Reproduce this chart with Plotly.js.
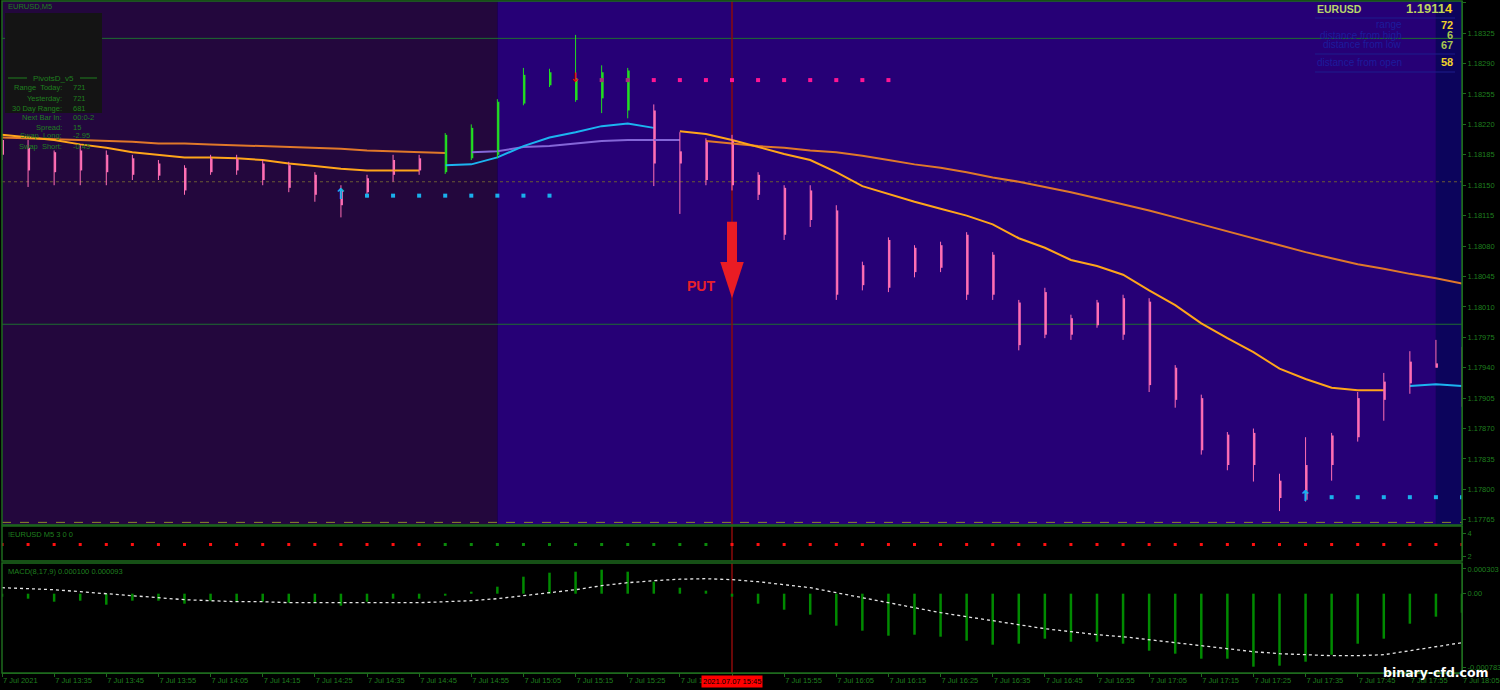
<!DOCTYPE html>
<html><head><meta charset="utf-8">
<script src="https://cdn.plot.ly/plotly-3.0.1.min.js"></script>
<style>html,body{margin:0;padding:0;background:#000;}#chart{width:1500px;height:690px;}</style>
</head><body><div id="chart"></div>
<script>
// ---------------- DATA ----------------
const DAY = '2021-07-07 ';
const barTimes = ['13:25','13:30','13:35','13:40','13:45','13:50','13:55','14:00','14:05','14:10','14:15','14:20','14:25','14:30','14:35','14:40','14:45','14:50','14:55','15:00','15:05','15:10','15:15','15:20','15:25','15:30','15:35','15:40','15:45','15:50','15:55','16:00','16:05','16:10','16:15','16:20','16:25','16:30','16:35','16:40','16:45','16:50','16:55','17:00','17:05','17:10','17:15','17:20','17:25','17:30','17:35','17:40','17:45','17:50','17:55','18:00','18:05'];

const openP  = [1.18202,1.18193,1.18188,1.18190,1.18185,1.18181,1.18175,1.18170,1.18181,1.18181,1.18175,1.18173,1.18162,1.18144,1.18158,1.18179,1.18181,
  1.18165,1.18181,1.18185,1.18244,1.18265,1.18248,1.18250,1.18236,
  1.18236,1.18189,1.18200,1.18202,1.18162,1.18147,1.18144,1.18121,1.18058,1.18087,1.18078,1.18081,1.18093,1.18070,1.18015,1.18027,1.17997,1.18015,1.18020,1.18016,1.17940,1.17905,1.17863,1.17865,1.17810,1.17828,1.17862,1.17905,1.17924,1.17947,1.17945,1.17941];
const highP  = [1.18204,1.18202,1.18190,1.18196,1.18190,1.18185,1.18179,1.18173,1.18185,1.18185,1.18179,1.18177,1.18165,1.18150,1.18162,1.18185,1.18185,
  1.18210,1.18220,1.18249,1.18285,1.18284,1.18323,1.18288,1.18285,
  1.18243,1.18211,1.18204,1.18208,1.18165,1.18150,1.18150,1.18127,1.18062,1.18090,1.18081,1.18085,1.18096,1.18073,1.18018,1.18032,1.18001,1.18018,1.18024,1.18020,1.17943,1.17909,1.17866,1.17870,1.17818,1.17860,1.17865,1.17912,1.17934,1.17959,1.17972,1.17964];
const lowP   = [1.18179,1.18148,1.18150,1.18150,1.18150,1.18156,1.18156,1.18139,1.18162,1.18162,1.18150,1.18142,1.18131,1.18113,1.18136,1.18154,1.18162,
  1.18163,1.18179,1.18181,1.18242,1.18263,1.18246,1.18233,1.18227,
  1.18149,1.18117,1.18150,1.18144,1.18133,1.18087,1.18102,1.18018,1.18029,1.18027,1.18044,1.18050,1.18018,1.18018,1.17960,1.17974,1.17972,1.17986,1.17972,1.17912,1.17894,1.17840,1.17822,1.17809,1.17775,1.17786,1.17810,1.17855,1.17879,1.17910,1.17940,1.17895];
const closeP = [1.18185,1.18167,1.18165,1.18167,1.18165,1.18162,1.18161,1.18144,1.18165,1.18167,1.18156,1.18147,1.18139,1.18127,1.18142,1.18162,1.18167,
  1.18208,1.18216,1.18246,1.18277,1.18280,1.18273,1.18280,1.18282,
  1.18175,1.18175,1.18156,1.18150,1.18139,1.18093,1.18110,1.18024,1.18035,1.18032,1.18050,1.18055,1.18024,1.18024,1.17966,1.17978,1.17978,1.17989,1.17978,1.17920,1.17903,1.17845,1.17828,1.17828,1.17790,1.17788,1.17828,1.17860,1.17903,1.17922,1.17940,1.17899];
const barTrend = ['p','p','p','p','p','p','p','p','p','p','p','p','p','p','p','p','p',
  'g','g','g','g','g','g','g','g',
  'p','p','p','p','p','p','p','p','p','p','p','p','p','p','p','p','p','p','p','p','p','p','p','p','p','p','p','p','p','p','p','p'];

const fastMaDown = [1.18208,1.18205,1.18202,1.18197,1.18193,1.18188,1.18185,1.18182,1.18182,1.18181,1.18179,1.18175,1.18172,1.18169,1.18167,1.18167,1.18167,
  null,null,null,null,null,null,null,null,null,
  1.18212,1.18209,1.18202,1.18194,1.18186,1.18179,1.18165,1.18149,1.18140,1.18131,1.18123,1.18115,1.18105,1.18089,1.18078,1.18064,1.18057,1.18047,1.18029,1.18012,1.17991,1.17974,1.17958,1.17939,1.17927,1.17917,1.17914,1.17914,
  null,null,null];
const fastMaUp = [null,null,null,null,null,null,null,null,null,null,null,null,null,null,null,null,null,
  1.18173,1.18174,1.18182,1.18195,1.18205,1.18211,1.18218,1.18221,1.18216,
  null,null,null,null,null,null,null,null,null,null,null,null,null,null,null,null,null,null,null,null,null,null,null,null,null,null,null,null,
  1.17919,1.17921,1.17919];
const slowMaDown = [1.18205,1.18204,1.18203,1.18202,1.18201,1.18200,1.18198,1.18198,1.18197,1.18196,1.18195,1.18194,1.18193,1.18192,1.18190,1.18189,1.18188,1.18187,
  null,null,null,null,null,null,null,null,null,
  1.18201,1.18198,1.18195,1.18193,1.18190,1.18188,1.18184,1.18179,1.18174,1.18170,1.18165,1.18159,1.18154,1.18148,1.18142,1.18135,1.18128,1.18121,1.18113,1.18105,1.18097,1.18089,1.18081,1.18073,1.18066,1.18059,1.18054,1.18048,1.18043,1.18037];
const slowMaUp = [null,null,null,null,null,null,null,null,null,null,null,null,null,null,null,null,null,null,
  1.18188,1.18189,1.18194,1.18195,1.18198,1.18201,1.18202,1.18202,1.18202,
  null,null,null,null,null,null,null,null,null,null,null,null,null,null,null,null,null,null,null,null,null,null,null,null,null,null,null,null];

const supportDotTimes = ['14:35','14:40','14:45','14:50','14:55','15:00','15:05','15:10'];
const supportDotPrice = [1.18138,1.18138,1.18138,1.18138,1.18138,1.18138,1.18138,1.18138];
const support2DotTimes = ['17:40','17:45','17:50','17:55','18:00','18:05'];
const support2DotPrice = [1.17791,1.17791,1.17791,1.17791,1.17791,1.17791];
const resistDimTimes = ['15:20','15:25'];
const resistDimPrice = [1.18271,1.18271];
const resistDotTimes = ['15:30','15:35','15:40','15:45','15:50','15:55','16:00','16:05','16:10','16:15'];
const resistDotPrice = [1.18271,1.18271,1.18271,1.18271,1.18271,1.18271,1.18271,1.18271,1.18271,1.18271];
const upArrowTimes = ['14:30','17:35'];
const upArrowPrice = [1.18138,1.17791];
const downArrowTimes = ['15:15'];
const downArrowPrice = [1.18273];

const putTime = '15:45';
const putShaft = [1.18108,1.18057];
const putTip = 1.18020;
const putLabelPrice = 1.18034;

// session shading boundaries
const sessionStart = '15:00';
const sessionEnd = '18:00';

const levelGreen = [1.18319,1.17990];
const levelDotted = 1.18154;
const levelDashed = 1.17762;

const trendDotLevel = [3,3,3,3,3,3,3,3,3,3,3,3,3,3,3,3,3,3,3,3,3,3,3,3,3,3,3,3,3,3,3,3,3,3,3,3,3,3,3,3,3,3,3,3,3,3,3,3,3,3,3,3,3,3,3,3,3];
const trendDotColor = ['r','r','r','r','r','r','r','r','r','r','r','r','r','r','r','r','r',
  'g','g','g','g','g','g','g','g','g','g','g',
  'r','r','r','r','r','r','r','r','r','r','r','r','r','r','r','r','r','r','r','r','r','r','r','r','r','r','r','r','r'];

const macdHist = [-0.0000296,-0.0000494,-0.0000790,-0.0000691,-0.0001086,-0.0000691,-0.0000691,-0.0000987,-0.0000691,-0.0000790,-0.0000790,-0.0000889,-0.0000889,-0.0001185,-0.0000790,-0.0000494,-0.0000494,
  -0.0000197,0.0000197,0.0000691,0.0001678,0.0002073,0.0002172,0.0002370,0.0002172,0.0001185,0.0000592,0.0000296,
  -0.0000296,-0.0000987,-0.0001580,-0.0002073,-0.0003159,-0.0003653,-0.0004147,-0.0004048,-0.0004245,-0.0004640,-0.0005035,-0.0004937,-0.0004443,
  -0.0004739,-0.0004739,-0.0004937,-0.0005628,-0.0005924,-0.0006417,-0.0006417,-0.0007207,-0.0007109,-0.0006714,-0.0006023,-0.0004937,-0.0004443,-0.0002962,-0.0002271,-0.0001876];
const macdSignal = [0.0000592,0.0000494,0.0000395,0.0000197,0,
  -0.0000197,-0.0000395,-0.0000592,-0.0000691,-0.0000790,-0.0000790,
  -0.0000889,-0.0000889,-0.0000889,-0.0000889,-0.0000889,-0.0000889,
  -0.0000790,-0.0000691,-0.0000494,-0.0000197,
  0.0000099,0.0000395,0.0000790,0.0001086,0.0001283,0.0001432,0.0001481,
  0.0001382,0.0001185,0.0000889,0.0000592,0.0000099,
  -0.0000395,-0.0000889,-0.0001382,-0.0001876,-0.0002271,-0.0002666,-0.0003061,-0.0003456,
  -0.0003752,-0.0004048,-0.0004245,-0.0004542,-0.0004838,-0.0005134,-0.0005430,-0.0005726,
  -0.0005924,-0.0006023,-0.0006121,-0.0006121,-0.0006023,-0.0005628,-0.0005233,-0.0004838];

const xTickTimes = ['13:25','13:35','13:45','13:55','14:05','14:15','14:25','14:35','14:45','14:55','15:05','15:15','15:25','15:35','15:45','15:55','16:05','16:15','16:25','16:35','16:45','16:55','17:05','17:15','17:25','17:35','17:45','17:55','18:05'];
const xTickText = ['7 Jul 2021','7 Jul 13:35','7 Jul 13:45','7 Jul 13:55','7 Jul 14:05','7 Jul 14:15','7 Jul 14:25','7 Jul 14:35','7 Jul 14:45','7 Jul 14:55','7 Jul 15:05','7 Jul 15:15','7 Jul 15:25','7 Jul 15:35','','7 Jul 15:55','7 Jul 16:05','7 Jul 16:15','7 Jul 16:25','7 Jul 16:35','7 Jul 16:45','7 Jul 16:55','7 Jul 17:05','7 Jul 17:15','7 Jul 17:25','7 Jul 17:35','7 Jul 17:45','7 Jul 17:55','7 Jul 18:05'];
const macdTickVals = [0.000244,0,-0.000724];
const macdTickText = ['0.000303','0.00','-0.000783'];

// ---------------- BUILD ----------------
const T = t => DAY + t;
const X = barTimes.map(T);
const MSPX = 300000 / 26.07; // ms per pixel on the time axis
const GREEN_TXT = '#1f7f1f';
const FONT = 'Liberation Sans, Arial, sans-serif';
const candleCol = {p:'#ff6eb4', g:'#22dd22'};

const traces = [];
function addMA(vals, color, width) {
  traces.push({type:'scatter', mode:'lines', x:X, y:vals, connectgaps:false, line:{color, width}, xaxis:'x', yaxis:'y', hoverinfo:'skip'});
}
addMA(slowMaDown, '#e0782a', 2);
addMA(slowMaUp, '#8466d8', 2);
addMA(fastMaDown, '#ffa51a', 2);
addMA(fastMaUp, '#1cb4f0', 2);

['p','g'].forEach(flag => {
  const wx = [], wy = [], bx = [], bb = [], bh = [];
  X.forEach((t, i) => {
    if (barTrend[i] !== flag) return;
    wx.push(t, t, null); wy.push(highP[i], lowP[i], null);
    bx.push(t); bb.push(Math.min(openP[i], closeP[i]));
    bh.push(Math.max(Math.abs(closeP[i] - openP[i]), 0.00001));
  });
  traces.push({type:'scatter', mode:'lines', x:wx, y:wy, line:{color:candleCol[flag], width:1}, xaxis:'x', yaxis:'y', hoverinfo:'skip'});
  traces.push({type:'bar', x:bx, y:bh, base:bb, width:2*MSPX, offset:0, marker:{color:candleCol[flag], line:{width:0}}, xaxis:'x', yaxis:'y', hoverinfo:'skip'});
});

function dots(times, prices, color, size) {
  traces.push({type:'scatter', mode:'markers', x:times.map(T), y:prices, marker:{symbol:'square', color, size}, xaxis:'x', yaxis:'y', hoverinfo:'skip'});
}
dots(supportDotTimes, supportDotPrice, '#1ab0ec', 4);
dots(support2DotTimes, support2DotPrice, '#1ab0ec', 4);
dots(resistDimTimes, resistDimPrice, '#a8307c', 4);
dots(resistDotTimes, resistDotPrice, '#ff1493', 4);

traces.push({type:'scatter', mode:'text', x:upArrowTimes.map(T), y:upArrowPrice, text:upArrowTimes.map(() => '<b>↑</b>'),
  textfont:{family:'DejaVu Sans', size:15, color:'#1ab0ec'}, xaxis:'x', yaxis:'y', hoverinfo:'skip'});
traces.push({type:'scatter', mode:'text', x:downArrowTimes.map(T), y:downArrowPrice, text:downArrowTimes.map(() => '<b>↓</b>'),
  textfont:{family:'DejaVu Sans', size:13, color:'#e01010'}, xaxis:'x', yaxis:'y', hoverinfo:'skip'});

// PUT arrow
traces.push({type:'scatter', mode:'lines', x:[T(putTime), T(putTime)], y:putShaft, line:{color:'#ea1c24', width:10}, xaxis:'x', yaxis:'y', hoverinfo:'skip'});
traces.push({type:'scatter', mode:'markers', x:[T(putTime)], y:[putTip], marker:{symbol:'arrow', angle:180, size:38, color:'#ea1c24', line:{width:0}}, xaxis:'x', yaxis:'y', hoverinfo:'skip'});

// panel 1 dots
['r','g'].forEach(c => {
  const tx = [], ty = [];
  X.forEach((t, i) => { if (trendDotColor[i] === c) { tx.push(t); ty.push(trendDotLevel[i]); } });
  traces.push({type:'scatter', mode:'markers', x:tx, y:ty, marker:{symbol:'square', size:3, color: c === 'r' ? '#ff1010' : '#0b8a0b'}, xaxis:'x', yaxis:'y2', hoverinfo:'skip'});
});

// MACD
traces.push({type:'bar', x:X, y:macdHist, width:2.5*MSPX, marker:{color:'#008a00', line:{width:0}}, xaxis:'x', yaxis:'y3', hoverinfo:'skip'});
traces.push({type:'scatter', mode:'lines', x:X, y:macdSignal, line:{color:'#e6e6e6', width:1.3, dash:'3px,3px'}, xaxis:'x', yaxis:'y3', hoverinfo:'skip'});

// ---------------- LAYOUT ----------------
const px2x = px => (px - 2) / 1460;
const py2y = py => (673 - py) / 672;
const annotations = [];
function txt(text, px, py, anchor, size, color, extra) {
  annotations.push(Object.assign({text, xref:'paper', yref:'paper', x:px2x(px), y:py2y(py), xanchor:anchor, yanchor:'middle',
    showarrow:false, font:{family:FONT, size, color}}, extra || {}));
}
const shapes = [];
const noLine = {width:0};
// backgrounds
shapes.push({type:'rect', xref:'x', yref:'y domain', x0:T('13:00'), x1:T(sessionStart), y0:0, y1:1, fillcolor:'#23073d', line:noLine, layer:'below'});
shapes.push({type:'rect', xref:'x', yref:'y domain', x0:T(sessionStart), x1:T(sessionEnd), y0:0, y1:1, fillcolor:'#260076', line:noLine, layer:'below'});
shapes.push({type:'rect', xref:'x', yref:'y domain', x0:T(sessionEnd), x1:T('18:30'), y0:0, y1:1, fillcolor:'#0c045c', line:noLine, layer:'below'});
// levels
levelGreen.forEach(v => shapes.push({type:'line', xref:'x domain', yref:'y', x0:0, x1:1, y0:v, y1:v, line:{color:'#1e6e30', width:1}, layer:'below'}));
shapes.push({type:'line', xref:'x domain', yref:'y', x0:0, x1:1, y0:levelDotted, y1:levelDotted, line:{color:'#6a5a34', width:1, dash:'dot'}, layer:'below'});
shapes.push({type:'line', xref:'x domain', yref:'y', x0:0, x1:1, y0:levelDashed, y1:levelDashed, line:{color:'#8a8a28', width:1, dash:'dash'}, layer:'below'});
// red time line
['y domain','y2 domain','y3 domain'].forEach(r => shapes.push({type:'line', xref:'x', yref:r, x0:T(putTime), x1:T(putTime), y0:0, y1:1, line:{color:'#8b0a0a', width:1.5}, layer:'below'}));
// panel borders
['y domain','y2 domain','y3 domain'].forEach(r => shapes.push({type:'rect', xref:'x domain', yref:r, x0:0, x1:1, y0:0, y1:1, line:{color:'#1e6b1e', width:1.5}, layer:'above'}));
// top-left box
shapes.push({type:'rect', xref:'paper', yref:'paper', x0:px2x(5), x1:px2x(102), y0:py2y(113), y1:py2y(13), fillcolor:'#141414', line:{width:0}, layer:'above'});
shapes.push({type:'line', xref:'paper', yref:'paper', x0:px2x(8), x1:px2x(27), y0:py2y(78), y1:py2y(78), line:{color:GREEN_TXT, width:1}, layer:'above'});
shapes.push({type:'line', xref:'paper', yref:'paper', x0:px2x(80), x1:px2x(97), y0:py2y(78), y1:py2y(78), line:{color:GREEN_TXT, width:1}, layer:'above'});
// top-right separator lines
[18, 54, 72].forEach(py => shapes.push({type:'line', xref:'paper', yref:'paper', x0:px2x(1315), x1:px2x(1455), y0:py2y(py), y1:py2y(py), line:{color:'#1c1c8c', width:1}, layer:'above'}));

txt('EURUSD,M5', 6, 7, 'left', 7.5, GREEN_TXT);
txt('PivotsD_v5', 53, 78, 'center', 8, GREEN_TXT);
[['Range  Today:','721',88],['Yesterday:','721',98],['30 Day Range:','681',108],['Next Bar In:','00:0-2',117],
 ['Spread:','15',127],['Swap  Long:','-2.95',136],['Swap  Short:','-0.45',146]].forEach(r => {
  txt(r[0], 64, r[2], 'right', 7.5, GREEN_TXT);
  txt(r[1], 71, r[2], 'left', 7.5, GREEN_TXT);
});
txt('<b>EURUSD</b>', 1315, 9, 'left', 10.5, '#b8d66a');
txt('<b>1.1911<span style="color:#f5d21a">4</span></b>', 1455, 9, 'right', 13, '#bcd45e');
txt('range', 1404, 25, 'right', 10, '#1c1c9c');
txt('distance from high', 1404, 35, 'right', 10, '#1c1c9c');
txt('distance from low', 1404, 45, 'right', 10, '#1c1c9c');
txt('distance from open', 1404, 62, 'right', 10, '#1c1c9c');
txt('<b>72</b>', 1455, 25, 'right', 11, '#f0d22a');
txt('<b>6</b>', 1455, 35, 'right', 11, '#a8c850');
txt('<b>67</b>', 1455, 45, 'right', 11, '#a8c850');
txt('<b>58</b>', 1455, 62, 'right', 11, '#f0d22a');
txt('!EURUSD M5 3 0 0', 6, 534, 'left', 7.5, GREEN_TXT);
txt('MACD(8,17,9) 0.000100 0.000093', 6, 571, 'left', 7.5, GREEN_TXT);
annotations.push({text:'<b>binary-cfd.com</b>', xref:'paper', yref:'paper', x:px2x(1491), y:py2y(672), xanchor:'right', yanchor:'middle',
  showarrow:false, font:{family:'DejaVu Sans', size:12.5, color:'#ffffff'}});
annotations.push({text:'<b>PUT</b>', xref:'x', yref:'y', x:T(putTime), y:putLabelPrice, xanchor:'right', yanchor:'middle', xshift:-15,
  showarrow:false, font:{family:FONT, size:14, color:'#e8202a'}});
annotations.push({text:'2021.07.07 15:45', xref:'x', yref:'paper', x:T(putTime), y:py2y(681), xanchor:'center', yanchor:'middle',
  showarrow:false, bgcolor:'#ff0000', borderpad:1, font:{family:FONT, size:7.5, color:'#000'}});

const axisCommon = {showgrid:false, zeroline:false, showline:true, linecolor:'#1e6b1e', linewidth:1, ticks:'outside', ticklen:3,
  tickcolor:'#1e6b1e', fixedrange:true, automargin:false, tickfont:{family:FONT, size:7.5, color:GREEN_TXT}};
const layout = {
  width:1500, height:690, paper_bgcolor:'#000', plot_bgcolor:'#000',
  margin:{l:2, r:38, t:1, b:17}, showlegend:false, barmode:'overlay',
  font:{family:FONT, size:8, color:GREEN_TXT},
  xaxis:Object.assign({}, axisCommon, {type:'date', range:[T('13:25'), T('18:05')], anchor:'y3',
    tickmode:'array', tickvals:xTickTimes.map(T), ticktext:xTickText, ticklabelposition:'outside right', tickangle:0}),
  yaxis:Object.assign({}, axisCommon, {domain:[0.22024, 1], range:[1.17759, 1.18362], side:'right', anchor:'x',
    tick0:1.17765, dtick:0.00035, tickformat:'.5f'}),
  yaxis2:Object.assign({}, axisCommon, {domain:[0.16667, 0.21875], range:[1.565, 4.61], side:'right', anchor:'x',
    tickmode:'array', tickvals:[2, 4], ticktext:['2', '4']}),
  yaxis3:Object.assign({}, axisCommon, {domain:[0, 0.16369], range:[-0.000783, 0.000303], side:'right', anchor:'x',
    tickmode:'array', tickvals:macdTickVals, ticktext:macdTickText}),
  shapes, annotations
};
Plotly.newPlot('chart', traces, layout, {staticPlot:true, displayModeBar:false});
</script>
</body></html>
